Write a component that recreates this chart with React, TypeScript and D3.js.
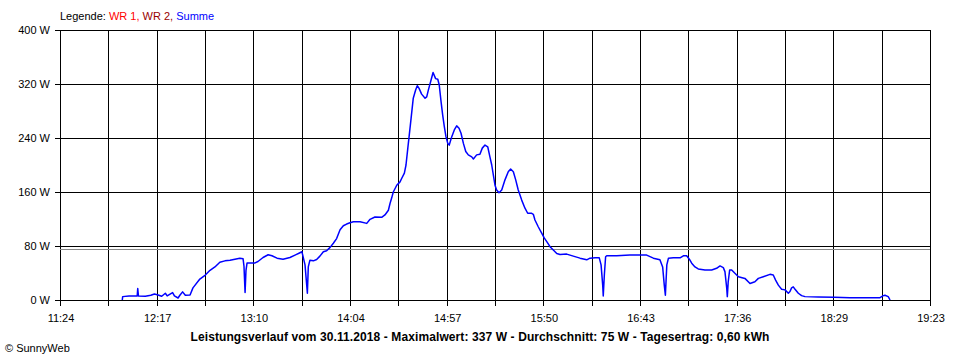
import * as d3 from "d3";

// time in minutes after midnight, watts
const summe: [number, number][] = [
  [718.3, 0], [718.5, 5], [722, 6], [726.5, 6], [726.8, 17], [727.2, 6], [731, 5.5], [734, 7],
  [736, 9], [738, 7.5], [740, 5.5], [742, 10], [743, 6], [746, 11], [747, 6], [749, 3], [750, 7],
  [751.5, 12], [753, 7], [755.6, 7.5], [757.2, 18], [761, 31], [764, 37], [766.6, 44], [769.3, 49],
  [772, 56], [774.8, 58], [777.6, 59], [783, 62], [784.8, 61], [785.3, 50], [785.9, 11], [786.4, 44],
  [787, 55], [791.4, 55], [793, 57], [795.8, 63], [798.6, 67], [800.7, 65.5], [803.5, 62],
  [806.8, 60.5], [810.6, 63], [813.4, 66.5], [816.1, 70], [817.2, 71.5], [818.9, 52], [820.2, 10],
  [820.7, 49], [821.6, 59], [823.5, 58], [825.3, 60], [827.1, 65], [829.0, 71.5], [830.8, 73],
  [832.7, 78], [834.5, 84], [836.3, 91], [838.2, 104], [840.0, 110], [841.8, 112.5], [843.7, 114.5],
  [845.5, 116], [849.2, 116], [852.9, 113.5], [854.7, 119.5], [857.4, 123], [861.1, 122.5],
  [862.9, 126], [864.8, 133], [865.7, 143], [866.6, 151], [867.5, 160], [869.4, 170], [871.2, 175],
  [872.1, 180], [873.6, 188], [874.5, 200], [875.5, 225], [876.2, 242], [877.3, 269], [878.5, 299],
  [879.8, 311], [880.7, 317.5], [881.7, 313.5], [883.1, 305], [885.0, 299], [885.9, 301],
  [886.8, 311], [888.3, 326], [889.4, 337], [890.8, 328], [892.0, 327], [892.8, 318.5], [893.8, 294],
  [894.7, 274], [895.6, 257], [896.5, 242], [897.5, 232], [898.3, 229.5], [899.7, 242], [901.1, 252],
  [902.4, 258], [903.7, 254.5], [904.8, 247], [906.1, 232], [907.4, 220], [908.8, 215], [910.7, 212],
  [911.6, 209], [913.4, 215], [915.2, 216], [916.5, 225], [918.0, 229.5], [919.5, 227], [920.7, 212],
  [921.7, 200], [922.6, 185], [923.5, 170], [924.4, 163], [925.7, 159], [927.2, 163], [929.0, 178],
  [930.8, 190], [932.1, 194], [933.6, 190], [934.9, 178], [936.3, 163], [938.2, 148], [940.0, 136],
  [941.5, 128.5], [943.7, 128.5], [944.6, 127], [945.5, 118.5], [947.3, 108.5], [949.2, 99],
  [950.6, 92], [952.0, 86.5], [953.8, 79], [955.6, 74], [957.5, 69], [959.3, 67.5], [963.0, 68],
  [966.6, 65], [970.3, 62], [974.0, 59.5], [975.8, 62], [978.6, 62.5], [980.9, 62.5], [981.9, 52],
  [982.8, 22], [983.1, 6], [983.7, 37], [984.4, 64], [985.0, 65.5], [990.5, 65.5], [997.8, 66.5],
  [1003.3, 66.5], [1007.0, 66.5], [1010.7, 62], [1014.3, 59.5], [1015.8, 49], [1016.7, 22],
  [1017.3, 7], [1018.1, 52], [1019.0, 62], [1021.7, 62.5], [1025.4, 62.5], [1027.2, 65.5],
  [1029.0, 65.5], [1030.5, 60.5], [1031.8, 54.5], [1033.6, 49], [1035.4, 46], [1039.1, 44.5],
  [1042.8, 44.5], [1045.5, 47], [1047.4, 50.5], [1049.2, 48], [1050.1, 42], [1051.1, 17],
  [1051.4, 5], [1051.9, 27], [1052.7, 44.5], [1053.8, 44.5], [1055.6, 39.5], [1057.5, 34.5],
  [1061.1, 32], [1063.9, 24.5], [1066.6, 27], [1068.5, 32], [1071.2, 34.5], [1074.9, 38],
  [1076.7, 37], [1078.0, 29.5], [1079.5, 22], [1081.3, 16], [1083.2, 15], [1085.0, 10],
  [1085.9, 12.5], [1086.8, 18], [1087.7, 19.5], [1088.7, 16], [1090.5, 10], [1092.3, 6.5],
  [1094.2, 5], [1101.5, 4.5], [1110.3, 4], [1118.9, 3.5], [1135.5, 3.5], [1137.3, 6.5],
  [1138.2, 7], [1140.0, 5], [1141.0, 0],
];

const xLabels = ["11:24", "12:17", "13:10", "14:04", "14:57", "15:50", "16:43", "17:36", "18:29", "19:23"];
const yTicks = [0, 80, 160, 240, 320, 400];
const average = 75;
const caption =
  "Leistungsverlauf vom 30.11.2018 - Maximalwert: 337 W - Durchschnitt: 75 W - Tagesertrag: 0,60 kWh";

const width = 960, height = 360;
const marginLeft = 60, marginRight = 30, marginTop = 30, plotBottom = 300;
const tStart = 684, tEnd = 1163; // 11:24 .. 19:23

export default function App() {
  const x = d3.scaleLinear([tStart, tEnd], [marginLeft, width - marginRight]);
  const y = d3.scaleLinear([0, 400], [plotBottom, marginTop]);
  const grid = d3.range(19).map(i => tStart + (i * (tEnd - tStart)) / 18);

  const line = d3.line<[number, number]>()
    .x(d => x(d[0]))
    .y(d => y(d[1]));

  const px = (v: number) => Math.round(v) + 0.5;
  const font = "Arial, 'Liberation Sans', sans-serif";

  return (
    <svg width={width} height={height} style={{position: "absolute", left: 0, top: 0, background: "#fff"}}
         fontFamily={font} fontSize={11}>
      <rect width={width} height={height} fill="#fff"/>
      <text x={60} y={20} fill="#000">
        Legende: <tspan fill="#ff0000">WR 1,</tspan> <tspan fill="#990000">WR 2,</tspan> <tspan fill="#0000ff">Summe</tspan>
      </text>

      <g stroke="#000" strokeWidth={1} shapeRendering="crispEdges">
        {yTicks.map(v => (
          <line key={v} x1={marginLeft - 5} x2={width - marginRight} y1={px(y(v))} y2={px(y(v))}/>
        ))}
        {grid.map((t, i) => (
          <line key={i} x1={px(x(t))} x2={px(x(t))} y1={marginTop} y2={plotBottom + 6}/>
        ))}
      </g>
      <line x1={marginLeft} x2={width - marginRight} y1={px(y(average))} y2={px(y(average))}
            stroke="#888" strokeWidth={1} shapeRendering="crispEdges"/>

      <g textAnchor="end" fill="#000">
        {yTicks.map(v => (
          <text key={v} x={50} y={y(v) + 4}>{v} W</text>
        ))}
      </g>
      <g textAnchor="middle" fill="#000">
        {xLabels.map((l, i) => (
          <text key={l} x={x(grid[i * 2]) + 1} y={322}>{l}</text>
        ))}
      </g>

      <path d={line(summe) ?? ""} fill="none" stroke="#0000ff" strokeWidth={1.5} strokeLinejoin="round"/>

      <text x={480} y={341} textAnchor="middle" fontWeight="bold" fontSize={12} letterSpacing={0.1} fill="#000">{caption}</text>
      <text x={5} y={352} fill="#000">© SunnyWeb</text>
    </svg>
  );
}
